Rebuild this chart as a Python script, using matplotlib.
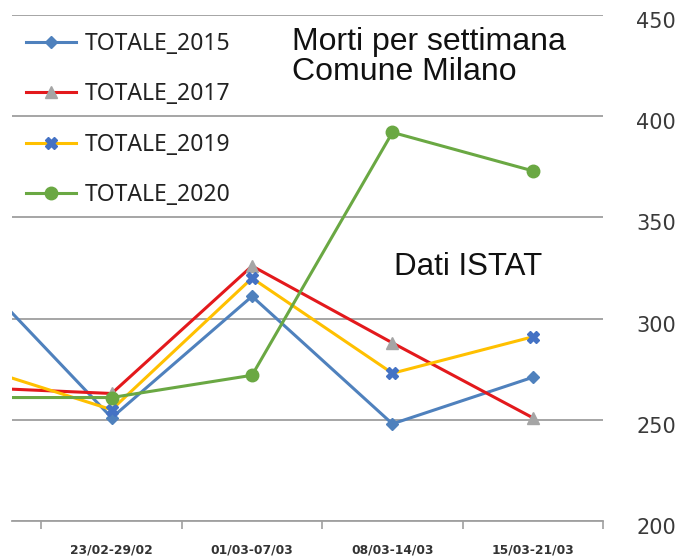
import matplotlib
matplotlib.use('Agg')
import matplotlib.pyplot as plt
import matplotlib.transforms as mtransforms
from matplotlib.ticker import FixedLocator

# settimane (la prima e' fuori dal ritaglio a sinistra)
weeks = ['16/02-22/02', '23/02-29/02', '01/03-07/03', '08/03-14/03', '15/03-21/03']
# morti per settimana
tot_2015 = [324, 251, 311, 248, 271]
tot_2017 = [266, 263, 326, 288, 251]
tot_2019 = [277, 255, 320, 273, 291]
tot_2020 = [261, 261, 272, 392, 373]
y_ticks = [200, 250, 300, 350, 400, 450]

fig = plt.figure(figsize=(6.83, 5.60), dpi=100)
ax = fig.add_axes([12/683, 1 - 521/560, (603 - 12)/683, (521 - 15)/560])

x = list(range(len(weeks)))

# le quattro serie
ax.plot(x, tot_2015, color='#4F81BD', lw=2.2, marker='D', ms=6.5,
        mfc='#4F81BD', mec='#4F81BD', label='TOTALE_2015')
ax.plot(x, tot_2017, color='#E3191C', lw=2.2, marker='^', ms=9,
        mfc='#A5A5A5', mec='#A5A5A5', label='TOTALE_2017')
ax.plot(x, tot_2019, color='#FFC000', lw=2.2, marker='X', ms=9,
        mfc='#4472C4', mec='#4472C4', label='TOTALE_2019')
ax.plot(x, tot_2020, color='#6AA843', lw=2.2, marker='o', ms=9,
        mfc='#6AA843', mec='#6AA843', label='TOTALE_2020')

# assi
ax.set_xlim(0.29, 4.5)
ax.set_ylim(200, 450)
ax.set_yticks(y_ticks)
ax.yaxis.tick_right()
ax.tick_params(axis='y', length=0, pad=24, labelsize=15, labelcolor='#3A3A3A')
# etichette y un po' sotto la griglia, come nell'originale
off = mtransforms.ScaledTranslation(0, -5/100, fig.dpi_scale_trans)
for lab in ax.get_yticklabels():
    lab.set_transform(lab.get_transform() + off)
ax.grid(axis='y', color='#9E9E9E', lw=1.3)
ax.set_axisbelow(True)

# tacche sui confini delle categorie, etichette al centro
ax.xaxis.set_major_locator(FixedLocator([i + 0.5 for i in x]))
ax.xaxis.set_major_formatter(plt.NullFormatter())
ax.xaxis.set_minor_locator(FixedLocator(x))
ax.set_xticklabels(weeks, minor=True)
ax.tick_params(axis='x', which='major', length=6, width=1.2, color='#A0A0A0', direction='out')
ax.tick_params(axis='x', which='minor', length=0, pad=16, labelsize=8.8, labelcolor='#333333')
for lab in ax.get_xticklabels(minor=True):
    lab.set_fontweight('bold')

for s in ['top', 'left', 'right']:
    ax.spines[s].set_visible(False)
ax.spines['bottom'].set_color('#A0A0A0')
ax.spines['bottom'].set_linewidth(1.3)

# testi
fig.text(292/683, 1 - 27/560, 'Morti per settimana\nComune Milano', fontsize=23,
         family='Liberation Sans', va='top', ha='left', linespacing=1.0, color='#111111')
fig.text(394/683, 1 - 267/560, 'Dati ISTAT', fontsize=22.5,
         family='Liberation Sans', va='center', ha='left', color='#111111')

# legenda
fig.legend(loc='upper left', bbox_to_anchor=(26/683, 1 - 32/560), frameon=False,
           prop={'family': 'Noto Sans', 'size': 16.5}, handlelength=2.2,
           handletextpad=0.35, labelspacing=1.15, borderpad=0, borderaxespad=0,
           labelcolor='#222222')

plt.savefig('out.png', dpi=100)
